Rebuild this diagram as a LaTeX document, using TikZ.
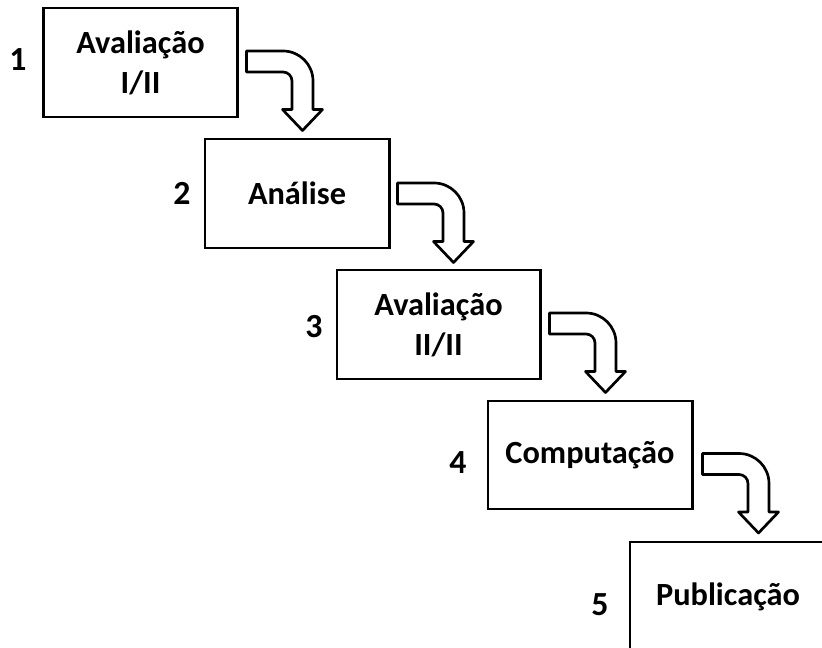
\documentclass[tikz,border=0pt]{standalone}
\usepackage{fontspec}
\setmainfont{Carlito}
\usetikzlibrary{calc,positioning}
\def\bentarrow(#1){\draw[arrowline, shift={(#1)}] (0,-10.5) -- (36.5,-10.5) arc[start angle=-90, end angle=0, radius=30] -- (66.5,48) -- (76,48) -- (56,69) -- (36,48) -- (45.5,48) -- (45.5,19.5) arc[start angle=0, end angle=-90, radius=9] -- (0,10.5) -- cycle;}

\begin{document}
\begin{tikzpicture}[x=0.025cm, y=-0.025cm,
	box/.style={draw, line width=2.1pt, align=center, inner sep=0pt, font=\fontsize{23}{28.5}\selectfont\bfseries},
	num/.style={font=\fontsize{24}{28}\selectfont\bfseries},
	arrowline/.style={draw, fill=white, line width=1.9pt, line join=round}]
			%%%%% START %%%%%
			\useasboundingbox (0,0) rectangle (822,648);
			
			\node[box, minimum width=4.825cm, minimum height=2.725cm] (b1) at (140.5, 62.5) {Avaliação\\I/II};
			\node[box, minimum width=4.6cm, minimum height=2.725cm] (b2) at (297, 193.5) {Análise};
			\node[box, minimum width=5.075cm, minimum height=2.725cm] (b3) at (438.5, 324.5) {Avaliação\\II/II};
			\node[box, minimum width=5.1cm, minimum height=2.7cm] (b4) at (590, 455) {Computação};
			\node[box, minimum width=4.9cm, minimum height=2.725cm] (b5) at (728, 596.5) {Publicação};
			
			\node[num] (n1) at (18, 60) {1};
			\node[num] (n2) at (182, 193) {2};
			\node[num] (n3) at (314, 327) {3};
			\node[num] (n4) at (458, 463) {4};
			\node[num] (n5) at (600, 605) {5};
			
			% arrow tails, next to each box
			\coordinate (a1) at ($(b1.east)+(8,-1)$);
			\coordinate (a2) at ($(b2.east)+(7,0)$);
			\coordinate (a3) at ($(b3.east)+(8,-1)$);
			\coordinate (a4) at ($(b4.east)+(9,9)$);
			
			\bentarrow(a1);
			\bentarrow(a2);
			\bentarrow(a3);
			\bentarrow(a4);
			
			%%%%% END %%%%%
\end{tikzpicture}
\end{document}
